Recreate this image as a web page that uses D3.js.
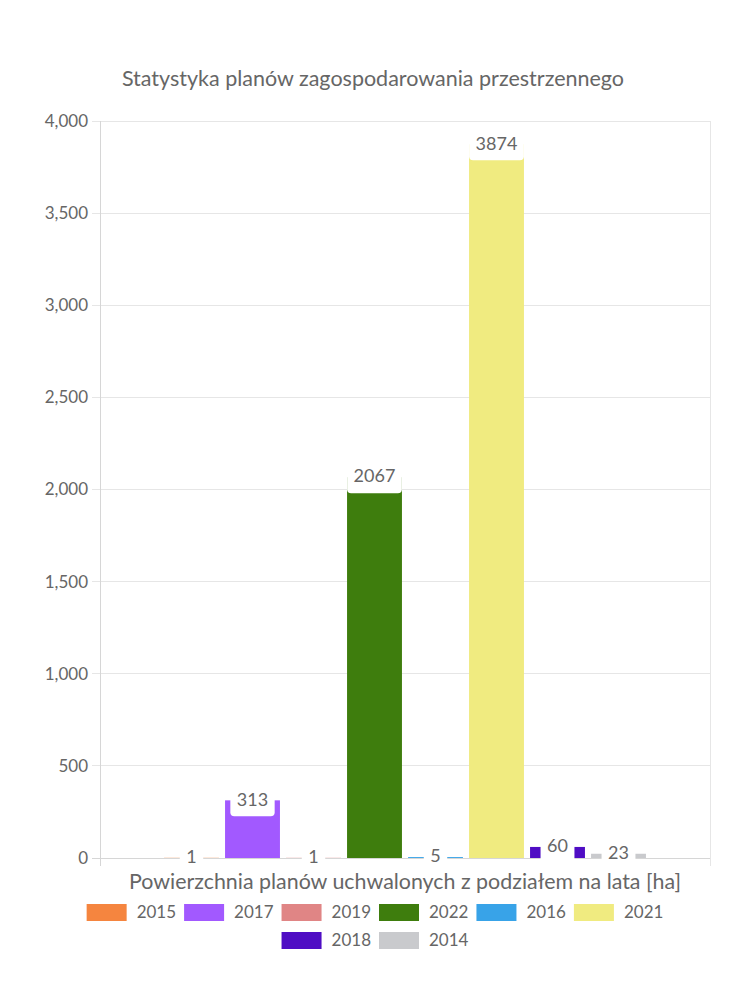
<!DOCTYPE html>
<html>
<head>
<meta charset="utf-8">
<script src="https://cdn.jsdelivr.net/npm/d3@7"></script>
<style>
  html, body { margin: 0; padding: 0; background: #fff; }
  svg { display: block; font-family: Lato, "Open Sans", sans-serif; }
</style>
</head>
<body>
<svg id="chart" width="750" height="1000"></svg>
<script>
// ---- data ----
const chartTitle = "Statystyka planów zagospodarowania przestrzennego";
const axisTitle = "Powierzchnia planów uchwalonych z podziałem na lata [ha]";
const categories = [""];
const seriesNames = ["2015", "2017", "2019", "2022", "2016", "2021", "2018", "2014"];
const seriesValues = [1, 313, 1, 2067, 5, 3874, 60, 23];
const seriesColors = ["#F5853F", "#A259FF", "#E08585", "#3E7D0D", "#38A3E8", "#F0EB80", "#4F0DC4", "#C9CACD"];
const yTicks = [0, 500, 1000, 1500, 2000, 2500, 3000, 3500, 4000];

// ---- layout ----
const svg = d3.select("#chart");
const plotLeft = 100, plotRight = 710, plotTop = 121, plotBottom = 858;
const textColor = "#666";
const gridColor = "#e6e6e6";

const y = d3.scaleLinear().domain([0, 4000]).range([plotBottom, plotTop]);
const x0 = d3.scaleBand().domain(categories).range([plotLeft, plotRight]);
const gx = x0(categories[0]), gw = x0.bandwidth();
const x1 = d3.scaleBand().domain(seriesNames)
  .range([gx + gw * 0.1, gx + gw * 0.9]).paddingInner(0.1).paddingOuter(0.05);

// title
svg.append("text").attr("x", 373).attr("y", 86).attr("text-anchor", "middle")
  .attr("font-size", 21.5).attr("fill", textColor).text(chartTitle);

// grid
const grid = svg.append("g");
yTicks.forEach(t => {
  grid.append("line").attr("x1", plotLeft - 8).attr("x2", plotRight)
    .attr("y1", y(t)).attr("y2", y(t)).attr("stroke", t === 0 ? "#d6d6d6" : gridColor).attr("stroke-width", 1)
    .attr("shape-rendering", "crispEdges");
});
[plotLeft, plotRight].forEach((xx, i) => {
  grid.append("line").attr("x1", xx).attr("x2", xx).attr("y1", plotTop).attr("y2", plotBottom + 8)
    .attr("stroke", i === 0 ? "#d6d6d6" : gridColor).attr("shape-rendering", "crispEdges");
});

// y axis labels
const yAxis = d3.axisLeft(y).tickValues(yTicks).tickFormat(d3.format(",")).tickSize(0).tickPadding(12);
const yg = svg.append("g").attr("transform", `translate(${plotLeft},0)`).call(yAxis);
yg.select(".domain").remove();
yg.selectAll("text").attr("font-size", 17).attr("fill", textColor).attr("font-family", "Lato, sans-serif");

// bars
svg.append("g").selectAll("rect").data(seriesNames).join("rect")
  .attr("x", d => x1(d)).attr("width", x1.bandwidth())
  .attr("y", (d, i) => y(seriesValues[i]))
  .attr("height", (d, i) => y(0) - y(seriesValues[i]))
  .attr("fill", (d, i) => seriesColors[i]);

// value labels with white boxes
const lg = svg.append("g");
seriesNames.forEach((s, i) => {
  const cx = x1(s) + x1.bandwidth() / 2;
  const cy = y(seriesValues[i]);
  const g = lg.append("g");
  const t = g.append("text").attr("x", cx).attr("y", cy - 1).attr("dy", "0.35em")
    .attr("text-anchor", "middle").attr("font-size", 18).attr("fill", textColor)
    .text(seriesValues[i]);
  const w = t.node().getComputedTextLength();
  g.insert("rect", "text").attr("x", cx - w / 2 - 6.5).attr("y", cy - 16)
    .attr("width", w + 13).attr("height", 32).attr("rx", 4).attr("fill", "#fff");
});

// x axis title
svg.append("text").attr("x", 405).attr("y", 889).attr("text-anchor", "middle")
  .attr("font-size", 21.4).attr("fill", textColor).text(axisTitle);

// legend
const rows = [seriesNames.slice(0, 6), seriesNames.slice(6)];
const rowY = [904, 932];
const legend = svg.append("g");
rows.forEach((row, r) => {
  const items = row.map(name => {
    const tmp = legend.append("text").attr("font-size", 17).text(name);
    const w = tmp.node().getComputedTextLength();
    tmp.remove();
    return { name, w: 40 + 10 + w };
  });
  const gap = 8;
  const total = d3.sum(items, d => d.w) + gap * (items.length - 1);
  let xx = 375 - total / 2;
  items.forEach(it => {
    const i = seriesNames.indexOf(it.name);
    legend.append("rect").attr("x", xx).attr("y", rowY[r]).attr("width", 40).attr("height", 17)
      .attr("fill", seriesColors[i]);
    legend.append("text").attr("x", xx + 50).attr("y", rowY[r] + 8.5).attr("dy", "0.35em")
      .attr("font-size", 17).attr("fill", textColor).text(it.name);
    xx += it.w + gap;
  });
});
</script>
</body>
</html>
